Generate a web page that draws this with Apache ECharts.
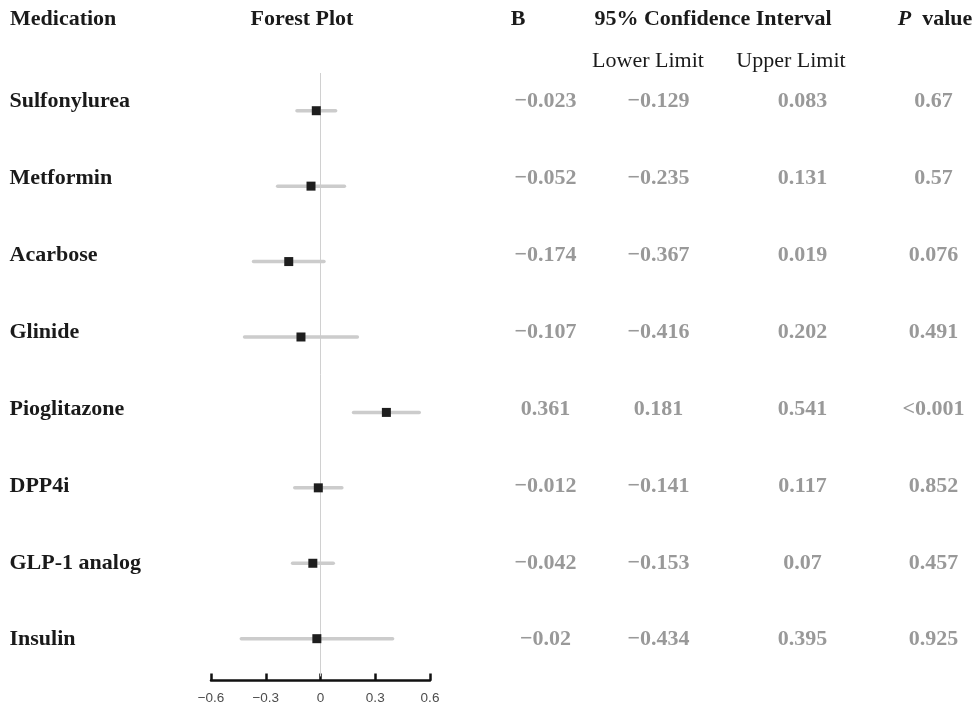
<!DOCTYPE html>
<html>
<head>
<meta charset="utf-8">
<script src="https://cdn.jsdelivr.net/npm/echarts@6/dist/echarts.min.js"></script>
<style>html,body{margin:0;padding:0;background:#fff;}#c{width:978px;height:709px;}</style>
</head>
<body>
<div id="c"></div>
<script>
const medications = ['Sulfonylurea','Metformin','Acarbose','Glinide','Pioglitazone','DPP4i','GLP-1 analog','Insulin'];
const bValues = [-0.023,-0.052,-0.174,-0.107,0.361,-0.012,-0.042,-0.02];
const lowerLimits = [-0.129,-0.235,-0.367,-0.416,0.181,-0.141,-0.153,-0.434];
const upperLimits = [0.083,0.131,0.019,0.202,0.541,0.117,0.07,0.395];
const pValues = ['0.67','0.57','0.076','0.491','<0.001','0.852','0.457','0.925'];
const xTicks = [-0.6,-0.3,0,0.3,0.6];

const SERIF = '"Liberation Serif","Times New Roman",serif';
const fmt = v => String(v).replace('-', '\u2212');

const chart = echarts.init(document.getElementById('c'), null, {renderer:'canvas'});

// column centres (layout)
const COL = {name: 10, b: 546, lo: 659, hi: 803, p: 934};

function textSeries(xPos, texts, align, color) {
  return {
    type: 'scatter', xAxisIndex: 1, yAxisIndex: 1,
    symbolSize: 1, itemStyle: {color: 'rgba(0,0,0,0)', opacity: 1},
    silent: true,
    data: texts.map((t, i) => ({value: [xPos, i], label: {formatter: t}})),
    label: {
      show: true, position: [0, 0], align: align, verticalAlign: 'middle',
      fontFamily: SERIF, fontSize: 22, fontWeight: 'bold', color: color
    },
    z: 5
  };
}

const headerStyle = (txt, x, y, bold) => ({
  type: 'text', x: x, y: y,
  style: {text: txt, fontFamily: SERIF, fontSize: 22, fontWeight: bold ? 'bold' : 'normal',
          fill: '#1a1a1a', textAlign: 'center', textVerticalAlign: 'middle'}
});

const option = {
  backgroundColor: '#fff',
  animation: false,
  graphic: [
    {type: 'text', x: 10, y: 19, style: {text: 'Medication', fontFamily: SERIF, fontSize: 22, fontWeight: 'bold', fill: '#1a1a1a', textAlign: 'left', textVerticalAlign: 'middle'}},
    headerStyle('Forest Plot', 302, 19, true),
    headerStyle('B', 518, 19, true),
    headerStyle('95% Confidence Interval', 713, 19, true),
    headerStyle('Lower Limit', 648, 61, false),
    headerStyle('Upper Limit', 791, 61, false),
    {type: 'text', x: 935, y: 19, style: {
      text: '{i|P}{b|  value}', textAlign: 'center', textVerticalAlign: 'middle',
      rich: {
        i: {fontFamily: SERIF, fontSize: 22, fontWeight: 'bold', fontStyle: 'italic', fill: '#1a1a1a'},
        b: {fontFamily: SERIF, fontSize: 22, fontWeight: 'bold', fill: '#1a1a1a'}
      }
    }}
  ],
  grid: [
    {left: 211, right: 548, top: 73, height: 603.4, containLabel: false},
    {left: 0, right: 0, top: 63.8, height: 614.8, containLabel: false}
  ],
  xAxis: [
    {
      type: 'value', gridIndex: 0, min: -0.6, max: 0.6, interval: 0.3, offset: 4,
      splitLine: {show: false},
      axisLine: {show: true, onZero: false, lineStyle: {color: '#111', width: 2.5}},
      axisTick: {show: true, inside: true, length: 7, lineStyle: {color: '#111', width: 2.5}},
      axisLabel: {
        margin: 11, color: '#4d4d4d', fontSize: 13.5, fontFamily: '"Liberation Sans",Arial,sans-serif',
        formatter: v => {
          const t = xTicks.find(x => Math.abs(x - v) < 1e-9);
          return fmt(t === undefined ? v : t);
        }
      }
    },
    {type: 'value', gridIndex: 1, min: 0, max: 978, show: false}
  ],
  yAxis: [
    {type: 'category', gridIndex: 0, data: medications, inverse: true, show: false, boundaryGap: true},
    {type: 'category', gridIndex: 1, data: medications, inverse: true, show: false, boundaryGap: true}
  ],
  series: [
    {
      type: 'custom', xAxisIndex: 0, yAxisIndex: 0, silent: true,
      data: medications.map((m, i) => [lowerLimits[i], upperLimits[i], i]),
      renderItem: (params, api) => {
        const p1 = api.coord([api.value(0), api.value(2)]);
        const p2 = api.coord([api.value(1), api.value(2)]);
        return {type: 'line', shape: {x1: p1[0], y1: p1[1], x2: p2[0], y2: p2[1]},
                style: {stroke: '#cccccc', lineWidth: 3.5, lineCap: 'round'}};
      },
      z: 2
    },
    {
      type: 'scatter', xAxisIndex: 0, yAxisIndex: 0, silent: true,
      symbol: 'rect', symbolSize: 9,
      itemStyle: {color: '#1e1e1e', opacity: 1},
      data: medications.map((m, i) => [bValues[i], i]),
      markLine: {
        silent: true, symbol: 'none', label: {show: false},
        lineStyle: {color: '#d0d0d0', width: 1, type: 'solid'},
        data: [{xAxis: 0}],
        z: 1
      },
      z: 4
    },
    textSeries(COL.name, medications, 'left', '#1a1a1a'),
    textSeries(COL.b, bValues.map(fmt), 'center', '#999999'),
    textSeries(COL.lo, lowerLimits.map(fmt), 'center', '#999999'),
    textSeries(COL.hi, upperLimits.map(fmt), 'center', '#999999'),
    textSeries(COL.p, pValues, 'center', '#999999')
  ]
};
chart.setOption(option);
</script>
</body>
</html>
